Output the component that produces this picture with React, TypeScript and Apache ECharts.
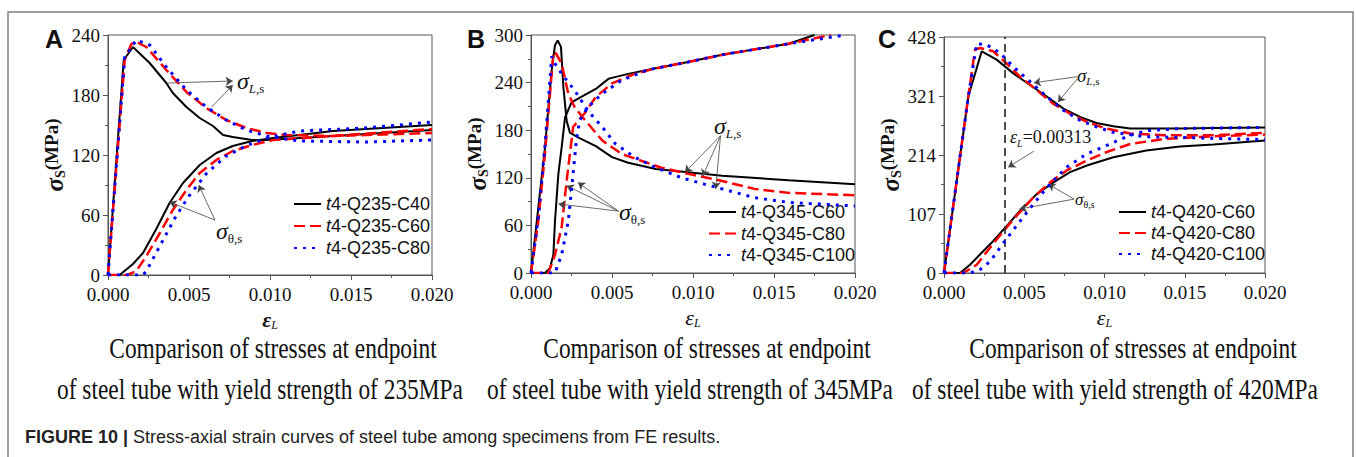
import React, { useEffect, useRef } from 'react';
import * as echarts from 'echarts';

const SERIF = "'Liberation Serif', 'Times New Roman', serif";
const SANS = "'Liberation Sans', Arial, sans-serif";
const BLACK = '#000000';
const RED = '#ff0000';
const BLUE = '#0000ff';
const AXIS = '#555555';

type P = [number, number];

// ---------- Panel A (yield 235 MPa) : [strain, stress MPa] ----------
const A_C40_L: P[] = [[0,0],[0.00097,215],[0.00154,228],[0.00257,212],[0.0036,192],[0.004,182],[0.00484,168],[0.00566,157],[0.00648,149],[0.0071,140],[0.0077,138],[0.0089,135],[0.0098,135],[0.0139,139],[0.02,145]];
const A_C40_T: P[] = [[0,0],[0.00072,0],[0.00154,11],[0.00216,22],[0.00298,46],[0.0038,72],[0.00463,92],[0.00566,110],[0.00669,122],[0.0077,129],[0.0089,134],[0.0102,137],[0.0139,144],[0.02,150]];
const A_C60_L: P[] = [[0,0],[0.00103,215],[0.00144,231],[0.00175,233],[0.00237,228],[0.0036,205],[0.00484,183],[0.00607,167],[0.0073,155],[0.00854,147],[0.0098,142],[0.011,140],[0.0139,139],[0.02,142]];
const A_C60_T: P[] = [[0,0],[0.0012,0],[0.00175,4],[0.00237,19],[0.0032,42],[0.004,65],[0.00484,85],[0.00566,102],[0.00669,115],[0.0077,124],[0.0089,130],[0.0102,135],[0.0139,139],[0.02,146]];
const A_C80_L: P[] = [[0,0],[0.00103,218],[0.00175,235],[0.00257,230],[0.0036,208],[0.00484,185],[0.00607,168],[0.0073,155],[0.00854,145],[0.0098,139],[0.0118,134],[0.0159,133],[0.02,135]];
const A_C80_T: P[] = [[0,0],[0.00216,0],[0.00237,4],[0.0032,29],[0.0042,59],[0.005,79],[0.0061,102],[0.0073,119],[0.0085,129],[0.0098,137],[0.0118,144],[0.0159,147],[0.02,153]];

// ---------- Panel B (yield 345 MPa) ----------
const B_C60_L: P[] = [[0,0],[0.00045,82],[0.00086,158],[0.00128,256],[0.00148,287],[0.00165,293],[0.00185,285],[0.002,234],[0.0022,192],[0.0024,177],[0.0029,171],[0.004,160],[0.005,146],[0.006,139],[0.0077,131],[0.0097,127],[0.0118,122.5],[0.0159,117],[0.02,112]];
const B_C60_T: P[] = [[0,0],[0.00086,0],[0.00117,6],[0.00138,23],[0.00148,65],[0.00169,125],[0.00189,158],[0.0021,196],[0.0025,215],[0.0031,222],[0.004,232],[0.0048,245],[0.006,251],[0.0077,258],[0.0097,266],[0.0118,275],[0.0159,289],[0.0175,300]];
const B_C80_L: P[] = [[0,0],[0.00045,65],[0.00086,150],[0.00138,277],[0.00148,279],[0.00189,264],[0.0023,226],[0.0027,209],[0.0032,196],[0.0044,167],[0.0056,150],[0.0068,141.5],[0.008,133],[0.0097,125],[0.0118,116],[0.0138,106],[0.0159,101],[0.02,98]];
const B_C80_T: P[] = [[0,0],[0.00107,0],[0.00148,23],[0.00189,57],[0.0022,116],[0.0024,150],[0.0026,184],[0.003,194],[0.0033,201],[0.004,222],[0.005,239],[0.0064,251],[0.0077,258],[0.0097,266],[0.0118,275],[0.0159,289],[0.0185,300]];
const B_C100_L: P[] = [[0,0],[0.00045,70],[0.00086,160],[0.00128,273],[0.00148,264],[0.00189,251],[0.0027,230],[0.0035,205],[0.0044,184],[0.0052,163],[0.0064,146],[0.0077,133],[0.0093,120],[0.0107,112],[0.0118,106],[0.0138,95],[0.0159,89],[0.02,84.5]];
const B_C100_T: P[] = [[0,0],[0.00148,0],[0.00189,23],[0.0023,65],[0.0026,125],[0.0028,167],[0.003,192],[0.0035,209],[0.0044,226],[0.0056,243],[0.0072,256],[0.0097,266],[0.0118,275],[0.0159,289],[0.0194,300]];

// ---------- Panel C (yield 420 MPa) ----------
const C_C60_L: P[] = [[0,0],[0.00152,321],[0.00235,402],[0.00328,387],[0.00432,362],[0.00536,341],[0.0064,320],[0.00744,298],[0.00847,283],[0.0095,272],[0.01055,266],[0.0116,262],[0.0126,262],[0.0147,262],[0.0168,263],[0.02,264]];
const C_C60_T: P[] = [[0,0],[0.001,0],[0.00162,15],[0.00224,33.5],[0.00307,58],[0.0039,85],[0.00474,113],[0.00577,143],[0.0068,164],[0.00785,183],[0.0089,195],[0.01055,210],[0.0126,222],[0.0147,229.5],[0.0168,233],[0.02,240.5]];
const C_C80_L: P[] = [[0,0],[0.00152,321],[0.00193,405],[0.00224,408],[0.00307,402],[0.0039,380],[0.00474,356],[0.00577,332],[0.0068,307],[0.00785,289],[0.0089,274],[0.0101,262],[0.0116,253],[0.0137,250],[0.0168,250],[0.02,254]];
const C_C80_T: P[] = [[0,0],[0.0012,0],[0.00204,15],[0.00287,46],[0.0037,76],[0.00453,104],[0.00557,137],[0.0066,164],[0.00764,186],[0.0089,204],[0.0101,219],[0.0116,234],[0.0137,243],[0.0168,248],[0.02,251]];
const C_C100_L: P[] = [[0,0],[0.00152,321],[0.00204,416],[0.00266,414],[0.00349,399],[0.00432,374],[0.00536,347],[0.0064,320],[0.00744,295],[0.00847,277],[0.0095,265],[0.01055,255],[0.0126,247],[0.0147,246],[0.0168,244],[0.02,242]];
const C_C100_T: P[] = [[0,0],[0.0016,0],[0.00224,6],[0.00287,21],[0.00349,46],[0.00411,70],[0.00474,94],[0.00557,125],[0.0066,161],[0.00764,192],[0.0089,216],[0.0101,231],[0.0116,250],[0.0126,258],[0.0147,262],[0.02,264]];

// ---------- names, axes ----------
const A_NAMES = ['t4-Q235-C40', 't4-Q235-C60', 't4-Q235-C80'];
const B_NAMES = ['t4-Q345-C60', 't4-Q345-C80', 't4-Q345-C100'];
const C_NAMES = ['t4-Q420-C60', 't4-Q420-C80', 't4-Q420-C100'];
const X_MAX = 0.02;
const X_INTERVAL = 0.005;
const Y_MAX = [240, 300, 428];
const Y_INTERVAL = [60, 60, 107];

// annotation leader lines (data coordinates: from -> to, arrowhead at "to")
const A_ARROWS: [P, P][] = [[[0.0037,192],[0.0077,194]],[[0.0064,168],[0.0077,190]],[[0.0066,55],[0.0038,73]],[[0.0066,55],[0.0056,90]]];
const B_ARROWS: [P, P][] = [[[0.0117,173],[0.0095,127]],[[0.0117,173],[0.0106,122]],[[0.0117,173],[0.0114,106]],[[0.0054,78],[0.0017,87]],[[0.0054,78],[0.0022,110]],[[0.0054,78],[0.0029,114]]];
const C_ARROWS: [P, P][] = [[[0.0083,356],[0.0056,345]],[[0.0083,352],[0.0071,310]],[[0.0081,134],[0.0047,116]],[[0.0081,134],[0.0065,161]],[[0.0056,221],[0.004,192]]];
const C_REF_STRAIN = 0.0038;

const CAPTION_1 = 'Comparison of stresses at endpoint';
const CAPTION_2 = ['of steel tube with yield strength of 235MPa', 'of steel tube with yield strength of 345MPa', 'of steel tube with yield strength of 420MPa'];

const STYLES = [
  { color: BLACK, width: 2, type: 'solid' as any },
  { color: RED, width: 2.5, type: [11, 5] as any },
  { color: BLUE, width: 3, type: [3, 6] as any },
];

const panels = [
  { grid: { left: 108, top: 35, width: 324, height: 240 }, names: A_NAMES, L: [A_C40_L, A_C60_L, A_C80_L], T: [A_C40_T, A_C60_T, A_C80_T], arrows: A_ARROWS, legend: { left: 293, top: 195, gap: 4 }, nameGap: 32, boldEps: true },
  { grid: { left: 531, top: 35, width: 324, height: 238 }, names: B_NAMES, L: [B_C60_L, B_C80_L, B_C100_L], T: [B_C60_T, B_C80_T, B_C100_T], arrows: B_ARROWS, legend: { left: 708, top: 203, gap: 3.5 }, nameGap: 30, boldEps: false },
  { grid: { left: 944, top: 37, width: 321, height: 236 }, names: C_NAMES, L: [C_C60_L, C_C80_L, C_C100_L], T: [C_C60_T, C_C80_T, C_C100_T], arrows: C_ARROWS, legend: { left: 1118, top: 203, gap: 3 }, nameGap: 34, boldEps: false },
];

const labelRich = (S: number) => {
  const sub = Math.round(S * 0.56);
  return {
    g: { fontFamily: SERIF, fontStyle: 'italic', fontSize: S, lineHeight: S + 2, verticalAlign: 'top', fill: '#111' },
    l: { fontFamily: SERIF, fontStyle: 'italic', fontSize: sub, lineHeight: sub, verticalAlign: 'bottom', fill: '#111' },
    s: { fontFamily: SERIF, fontSize: sub, lineHeight: sub, verticalAlign: 'bottom', fill: '#111' },
    n: { fontFamily: SERIF, fontSize: S, lineHeight: S + 2, verticalAlign: 'top', fill: '#111' },
  };
};

const txt = (x: number, y: number, text: string, S: number) => ({
  type: 'text', x, y, silent: true,
  style: { text, rich: labelRich(S), fontFamily: SERIF, align: 'left', verticalAlign: 'middle' },
});

function buildOption() {
  const grid: any[] = [];
  const xAxis: any[] = [];
  const yAxis: any[] = [];
  const legend: any[] = [];
  const series: any[] = [];

  panels.forEach((p, i) => {
    grid.push({ ...p.grid, show: true, borderColor: AXIS, borderWidth: 1, backgroundColor: 'transparent' });
    xAxis.push({
      gridIndex: i, type: 'value', min: 0, max: X_MAX, interval: X_INTERVAL,
      axisLine: { show: true, lineStyle: { color: AXIS, width: 1 } },
      axisTick: { show: true, inside: false, length: 5, lineStyle: { color: AXIS } },
      minorTick: { show: true, splitNumber: 2, length: 3, lineStyle: { color: AXIS } },
      splitLine: { show: false },
      axisLabel: { formatter: (v: number) => v.toFixed(3), fontFamily: SERIF, fontSize: 19, color: '#111', margin: 10 },
      name: '{e|ε}{l|L}', nameLocation: 'middle', nameGap: 22,
      nameTextStyle: {
        fontFamily: SERIF,
        rich: {
          e: { fontFamily: SERIF, fontStyle: 'italic', fontWeight: p.boldEps ? 'bold' : 'normal', fontSize: 22, lineHeight: 22, verticalAlign: 'top', color: '#111' },
          l: { fontFamily: SERIF, fontStyle: 'italic', fontSize: 12, lineHeight: 12, verticalAlign: 'bottom', color: '#111' },
        },
      },
    });
    yAxis.push({
      gridIndex: i, type: 'value', min: 0, max: Y_MAX[i], interval: Y_INTERVAL[i],
      axisLine: { show: true, lineStyle: { color: AXIS, width: 1 } },
      axisTick: { show: true, inside: false, length: 5, lineStyle: { color: AXIS } },
      minorTick: { show: true, splitNumber: 2, length: 3, lineStyle: { color: AXIS } },
      splitLine: { show: false },
      axisLabel: { fontFamily: SERIF, fontSize: 19, color: '#111', margin: 8 },
      name: '{a|σ}{b|S}{c|(MPa)}', nameLocation: 'middle', nameGap: p.nameGap,
      nameTextStyle: {
        fontFamily: SERIF,
        rich: {
          a: { fontFamily: SERIF, fontStyle: 'italic', fontWeight: 'bold', fontSize: 25, lineHeight: 26, verticalAlign: 'top', color: '#111' },
          b: { fontFamily: SERIF, fontWeight: 'bold', fontSize: 14, lineHeight: 14, verticalAlign: 'bottom', color: '#111' },
          c: { fontFamily: SERIF, fontWeight: 'bold', fontSize: 19, lineHeight: 26, verticalAlign: 'top', color: '#111' },
        },
      },
    });
    legend.push({
      orient: 'vertical', left: p.legend.left, top: p.legend.top, padding: 0,
      itemWidth: 27, itemHeight: 12, itemGap: p.legend.gap, selectedMode: false,
      itemStyle: { opacity: 0, borderWidth: 0 },
      data: p.names,
      formatter: (name: string) => `{i|${name.slice(0, 1)}}{n|${name.slice(1)}}`,
      textStyle: {
        fontFamily: SANS, fontSize: 18, color: '#111',
        rich: {
          i: { fontFamily: SANS, fontStyle: 'italic', fontSize: 18, lineHeight: 20, color: '#111' },
          n: { fontFamily: SANS, fontSize: 18, lineHeight: 20, color: '#111' },
        },
      },
    });

    const markData: any[] = p.arrows.map(([a, b]) => [
      { coord: a, symbol: 'none' },
      { coord: b, symbol: 'arrow' },
    ]);
    if (i === 2) {
      markData.push([
        { coord: [C_REF_STRAIN, 0], symbol: 'none', lineStyle: { color: '#222', width: 1.6, type: [8, 5] } },
        { coord: [C_REF_STRAIN, Y_MAX[2]], symbol: 'none' },
      ]);
    }

    [0, 1, 2].forEach((k) => {
      const st = STYLES[k];
      ['L', 'T'].forEach((kind) => {
        const data = (kind === 'L' ? p.L : p.T)[k];
        const s: any = {
          type: 'line', name: p.names[k], xAxisIndex: i, yAxisIndex: i, data,
          symbol: 'none', showSymbol: false, silent: true, z: 3 + k,
          lineStyle: { color: st.color, width: st.width, type: st.type },
          itemStyle: { color: st.color },
          emphasis: { disabled: true },
        };
        if (k === 0 && kind === 'L') {
          s.markLine = {
            silent: true, animation: false, symbolSize: 7, precision: 5,
            label: { show: false },
            emphasis: { disabled: true },
            lineStyle: { color: '#444', width: 0.8, type: 'solid' },
            data: markData,
          };
        }
        series.push(s);
      });
    });
  });

  const graphic: any[] = [
    { type: 'rect', silent: true, z: -10, shape: { x: 8, y: 12, width: 1345, height: 480 }, style: { fill: 'none', stroke: '#808080', lineWidth: 1.5 } },
    { type: 'text', x: 45, y: 39, silent: true, style: { text: 'A', fontFamily: SANS, fontWeight: 'bold', fontSize: 25, fill: '#111', align: 'left', verticalAlign: 'middle' } },
    { type: 'text', x: 467, y: 39, silent: true, style: { text: 'B', fontFamily: SANS, fontWeight: 'bold', fontSize: 25, fill: '#111', align: 'left', verticalAlign: 'middle' } },
    { type: 'text', x: 878, y: 39, silent: true, style: { text: 'C', fontFamily: SANS, fontWeight: 'bold', fontSize: 25, fill: '#111', align: 'left', verticalAlign: 'middle' } },
    txt(237, 82, '{g|σ}{l|L}{s|,s}', 24),
    txt(216, 232, '{g|σ}{s|θ,s}', 24),
    txt(714, 127, '{g|σ}{l|L}{s|,s}', 24),
    txt(619, 213, '{g|σ}{s|θ,s}', 24),
    txt(1077, 76, '{g|σ}{l|L}{s|,s}', 19),
    txt(1075, 200, '{g|σ}{s|θ,s}', 17),
    txt(1010, 138, '{g|ε}{l|L}{n|=0.00313}', 18),
  ];
  const c1x = [273, 707, 1133];
  const c2x = [260, 690, 1115];
  [0, 1, 2].forEach((i) => {
    graphic.push({ type: 'text', x: c1x[i], y: 348, scaleX: 0.78, silent: true, style: { text: CAPTION_1, fontFamily: SERIF, fontSize: 30, fill: '#111', align: 'center', verticalAlign: 'middle' } });
    graphic.push({ type: 'text', x: c2x[i], y: 389, scaleX: 0.78, silent: true, style: { text: CAPTION_2[i], fontFamily: SERIF, fontSize: 30, fill: '#111', align: 'center', verticalAlign: 'middle' } });
  });
  graphic.push({
    type: 'text', x: 25, y: 437, silent: true,
    style: {
      text: '{b|FIGURE 10 | }{n|Stress-axial strain curves of steel tube among specimens from FE results.}',
      align: 'left', verticalAlign: 'middle', fontFamily: SANS,
      rich: {
        b: { fontFamily: SANS, fontWeight: 'bold', fontSize: 18, fill: '#222' },
        n: { fontFamily: SANS, fontSize: 18, fill: '#222' },
      },
    },
  });

  return {
    animation: false, backgroundColor: '#ffffff',
    textStyle: { fontFamily: SERIF },
    grid, xAxis, yAxis, legend, series, graphic,
  };
}

export default function App() {
  const ref = useRef<HTMLDivElement>(null);
  useEffect(() => {
    if (!ref.current) return;
    const chart = echarts.init(ref.current, undefined, { renderer: 'svg' });
    chart.setOption(buildOption() as any);
    return () => chart.dispose();
  }, []);
  return <div ref={ref} style={{ position: 'fixed', left: 0, top: 0, width: 1356, height: 457 }} />;
}
